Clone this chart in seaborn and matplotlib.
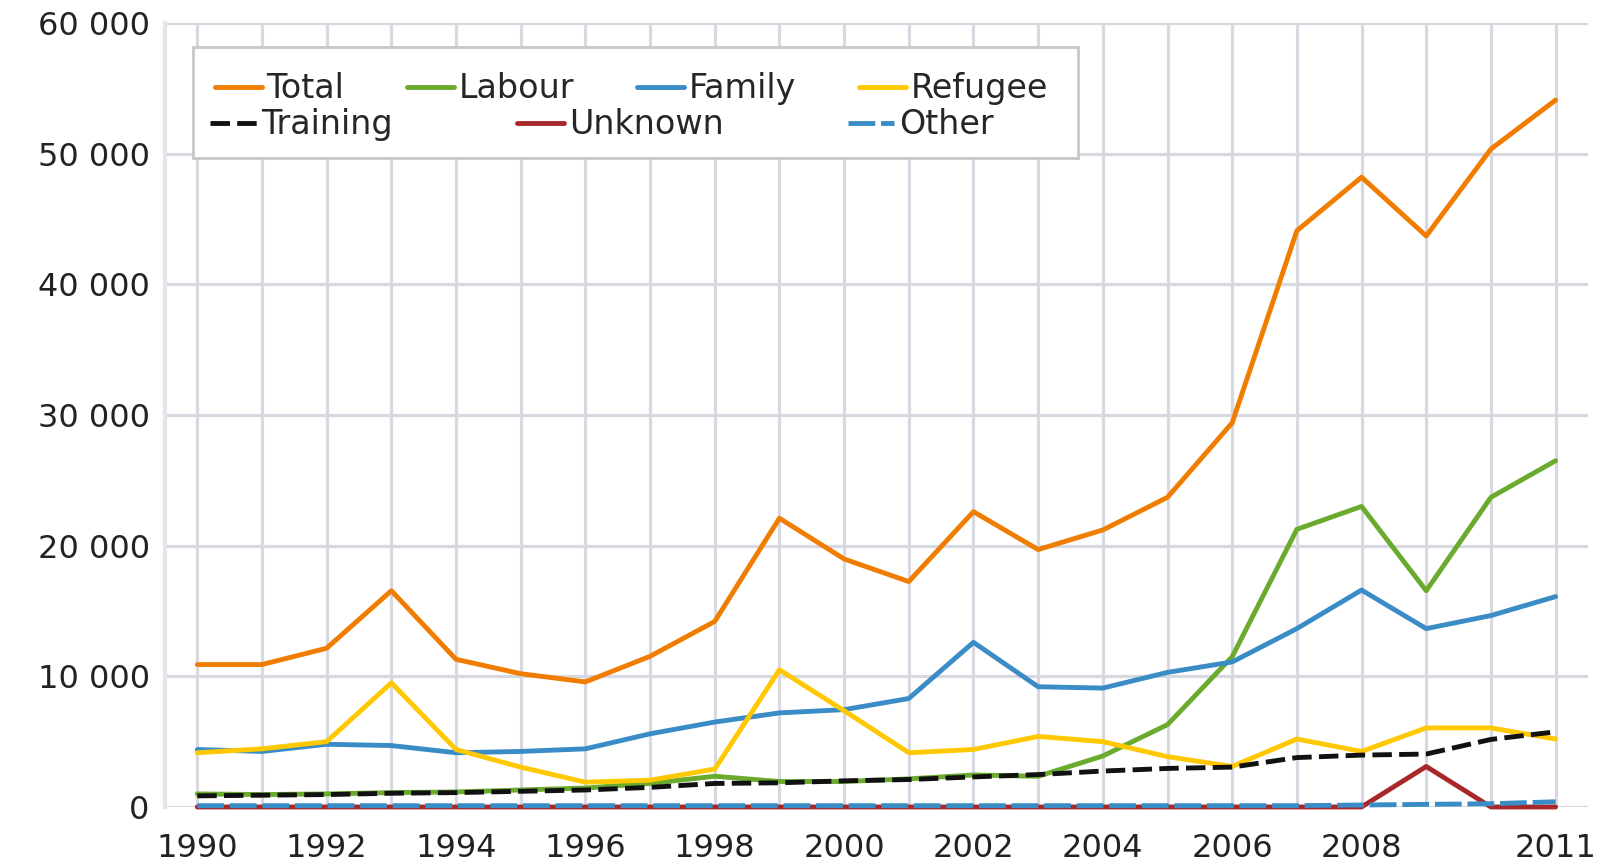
import matplotlib
matplotlib.use("Agg")
import matplotlib.pyplot as plt
import matplotlib.ticker as mticker
from matplotlib.patches import Rectangle
import pandas as pd
import seaborn as sns

# data
years = list(range(1990, 2012))
total = [10900, 10900, 12150, 16550, 11300, 10200, 9570, 11530, 14200, 22100, 18980,
         17250, 22600, 19700, 21200, 23700, 29400, 44100, 48200, 43700, 50350, 54100]
labour = [1000, 950, 1000, 1100, 1150, 1300, 1450, 1800, 2350, 1950, 1950,
          2150, 2450, 2350, 3900, 6300, 11500, 21250, 23000, 16550, 23700, 26500]
family = [4400, 4250, 4800, 4700, 4150, 4250, 4450, 5600, 6500, 7200, 7450,
          8300, 12600, 9200, 9100, 10300, 11100, 13650, 16600, 13650, 14650, 16100]
refugee = [4150, 4450, 5000, 9500, 4400, 3050, 1900, 2050, 2900, 10500, 7370,
           4150, 4400, 5400, 5000, 3850, 3100, 5200, 4250, 6050, 6050, 5200]
training = [850, 900, 950, 1050, 1100, 1200, 1300, 1500, 1800, 1850, 2000,
            2100, 2300, 2480, 2750, 2950, 3050, 3780, 3970, 4050, 5170, 5750]
unknown = [0, 0, 0, 0, 0, 0, 0, 0, 0, 0, 0,
           0, 0, 0, 0, 0, 0, 0, 0, 3100, 0, 0]
other = [100, 100, 100, 100, 100, 100, 100, 100, 100, 100, 100,
         100, 100, 100, 100, 100, 100, 100, 150, 200, 250, 400]

names = ["Total", "Labour", "Family", "Refugee", "Training", "Unknown", "Other"]
series = [total, labour, family, refugee, training, unknown, other]
colors = ["#f07d00", "#6aaa2c", "#3a8cc6", "#ffc800", "#111111", "#a8282a", "#3a8cc6"]
styles = ["-", "-", "-", "-", (0, (4, 1.5)), "-", (0, (5.5, 1.2))]

df = pd.DataFrame({"year": years})
for n, s in zip(names, series):
    df[n] = s

sns.set_style("white")
plt.rcParams["font.family"] = ["DejaVu Sans"]

fig = plt.figure(figsize=(16.03, 8.64), dpi=100)
ax = fig.add_axes([0.1029, 0.066, 0.8877, 0.9074])

for n, c, ls in zip(names, colors, styles):
    sns.lineplot(data=df, x="year", y=n, color=c, linewidth=3.5, linestyle=ls,
                 label=n, ax=ax, clip_on=False, zorder=3)

ax.set_xlim(1989.5, 2011.5)
ax.set_ylim(0, 60000)
ax.set_xlabel("")
ax.set_ylabel("")

# gridlines on every year, labels only on some
ax.set_xticks(years)
shown = [1990, 1992, 1994, 1996, 1998, 2000, 2002, 2004, 2006, 2008, 2011]
ax.set_xticklabels([str(y) if y in shown else "" for y in years])
ax.set_yticks(range(0, 60001, 10000))
ax.yaxis.set_major_formatter(mticker.FuncFormatter(lambda v, p: f"{int(v):,}".replace(",", " ")))
ax.grid(True, color="#d8d8e0", linewidth=2.3)
ax.set_axisbelow(True)
ax.tick_params(length=0, labelsize=23, colors="#222222")
ax.tick_params(axis="y", pad=11)
ax.tick_params(axis="x", pad=19)

for side in ["top", "right", "bottom"]:
    ax.spines[side].set_visible(False)
ax.spines["left"].set_color("#e4e4ea")
ax.spines["left"].set_linewidth(3)

# legend: framed box holding two rows
handles, labels = ax.get_legend_handles_labels()
hmap = dict(zip(labels, handles))
ax.legend_.remove() if ax.legend_ else None

ax.add_patch(Rectangle((0.0197, 0.8278), 0.622, 0.1416, transform=ax.transAxes,
                       facecolor="white", edgecolor="#c8c8c8", linewidth=2,
                       zorder=4.5, clip_on=False))

row1 = ["Total", "Labour", "Family", "Refugee"]
row2 = ["Training", "Unknown", "Other"]
common = dict(loc="center left", mode="expand", fontsize=24, handlelength=1.4,
              handletextpad=0.15, borderpad=0, borderaxespad=0, frameon=False)
leg1 = ax.legend([hmap[n] for n in row1], row1, ncol=4,
                 bbox_to_anchor=(0.0351, 0.9158, 0.5854, 0), **common)
ax.add_artist(leg1)
leg2 = ax.legend([hmap[n] for n in row2], row2, ncol=3,
                 bbox_to_anchor=(0.0316, 0.870, 0.551, 0), **common)

fig.savefig("out.png", dpi=100)
